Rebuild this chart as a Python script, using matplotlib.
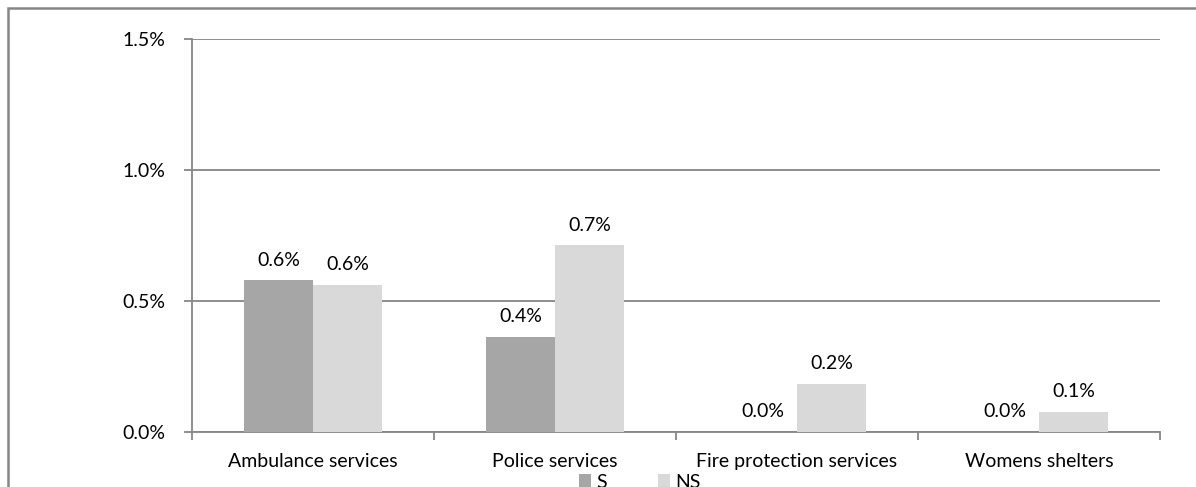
import matplotlib.pyplot as plt
import numpy as np
from matplotlib.patches import Rectangle
from matplotlib.ticker import FixedLocator, NullFormatter

categories = ["Ambulance services", "Police services",
              "Fire protection services", "Womens shelters"]
s_values = [0.579, 0.364, 0.0, 0.0]
ns_values = [0.561, 0.712, 0.183, 0.077]
y_ticks = [0.0, 0.5, 1.0, 1.5]

S_COLOR = "#a6a6a6"
NS_COLOR = "#d9d9d9"
LINE_COLOR = "#868686"
FS = 14

plt.rcParams["font.family"] = ["Lato", "DejaVu Sans"]
plt.rcParams["font.size"] = FS
plt.rcParams["text.color"] = "#000000"

fig = plt.figure(figsize=(11.96, 4.87), dpi=100)
W, H = 1196, 487
ax = fig.add_axes([192 / W, 1 - 432 / H, (1160 - 192) / W, (432 - 39) / H])

# outer chart frame (runs off the right and bottom edges)
fig.patches.append(Rectangle((8 / W, -0.2), 1.2, 1 - 7.5 / H + 0.2,
                             transform=fig.transFigure, fill=False,
                             edgecolor=LINE_COLOR, linewidth=1.8, zorder=0))

x = np.arange(len(categories))
width = 0.285
bars_s = ax.bar(x - width / 2, s_values, width, color=S_COLOR, label="S", zorder=3)
bars_ns = ax.bar(x + width / 2, ns_values, width, color=NS_COLOR, label="NS", zorder=3)

for bars in (bars_s, bars_ns):
    for b in bars:
        v = b.get_height()
        ax.text(b.get_x() + b.get_width() / 2, v + 0.045, f"{v:.1f}%",
                ha="center", va="bottom", fontsize=FS)

ax.set_xlim(-0.5, len(categories) - 0.5)
ax.set_ylim(0, 1.5)
ax.set_yticks(y_ticks)
ax.set_yticklabels([f"{t:.1f}%" for t in y_ticks])
ax.yaxis.grid(True, color=LINE_COLOR, linewidth=1.3, zorder=0)
ax.set_axisbelow(True)

ax.set_xticks(x)
ax.set_xticklabels(categories)
ax.tick_params(axis="x", which="major", length=0, pad=15)
ax.xaxis.set_minor_locator(FixedLocator(np.arange(-0.5, len(categories), 1.0)))
ax.xaxis.set_minor_formatter(NullFormatter())
ax.tick_params(axis="x", which="minor", length=6, width=1.3, color=LINE_COLOR)
ax.tick_params(axis="y", length=6, width=1.3, color=LINE_COLOR, pad=13)

for side in ("top", "right"):
    ax.spines[side].set_visible(False)
for side in ("left", "bottom"):
    ax.spines[side].set_color(LINE_COLOR)
    ax.spines[side].set_linewidth(1.3)

fig.legend(handles=[bars_s, bars_ns], labels=["S", "NS"], loc="center",
           bbox_to_anchor=(640 / W, 1 - 482 / H), ncol=2, frameon=False,
           handlelength=0.6, handleheight=0.6, handletextpad=0.3,
           columnspacing=2.6, fontsize=FS)

fig.savefig("out.png", dpi=100)
